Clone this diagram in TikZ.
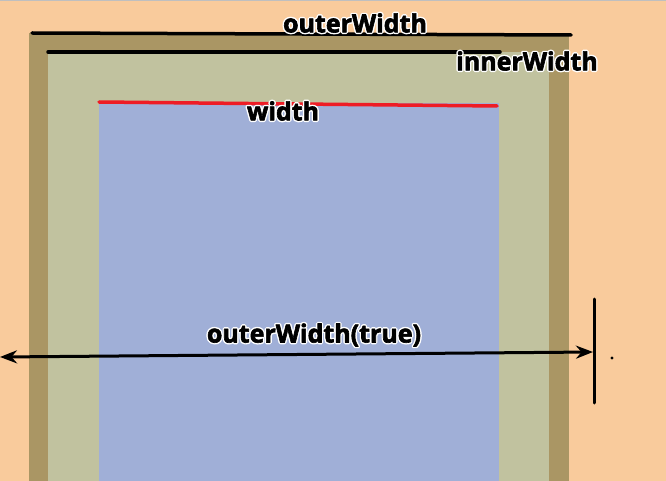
\documentclass[tikz,border=0pt]{standalone}
\usepackage{fontspec}
\usetikzlibrary{arrows.meta}

\newfontfamily\lblhalo{Open Sans}[BoldFeatures={FakeBold=14}]
\newfontfamily\lblfont{Open Sans}[BoldFeatures={FakeBold=2.5}]

\definecolor{peach}{HTML}{F9CB9C}
\definecolor{margin}{HTML}{AA9664}
\definecolor{pad}{HTML}{C1C29F}
\definecolor{content}{HTML}{A0AFD7}
\definecolor{redline}{HTML}{EE1C25}
\newcommand{\halo}[1]{\special{pdf:code 1 j 1 J}\makebox[0pt][l]{\color{white}\lblhalo\bfseries #1}{\lblfont\bfseries #1}}

\tikzset{
    dimlabel/.style={font=\fontsize{25}{25}\selectfont, inner sep=0pt, black},
    dimline/.style={line width=3.5pt, line cap=round},
}

\begin{document}
\begin{tikzpicture}[x=1pt, y=-1pt]
    \useasboundingbox (0, 0) rectangle (666, 481);
    \fill[peach] (0, 0) rectangle (666, 481);
    \draw[black!25, line width=1pt] (0, 0.5) -- (666, 0.5);

    % boxes
    \fill[margin] (29, 33) rectangle (569, 481);
    \fill[pad] (48, 52) rectangle (549, 481);
    \fill[content] (99, 103) rectangle (499, 481);

    % width lines
    \coordinate (ow-l) at (32, 33);
    \coordinate (ow-r) at (571, 35);
    \draw[dimline, black] (ow-l) -- (ow-r);

    \coordinate (iw-l) at (48, 52);
    \coordinate (iw-r) at (500, 52);
    \draw[dimline, black] (iw-l) -- (iw-r);

    \coordinate (w-l) at (99, 102);
    \coordinate (w-r) at (497, 106);
    \draw[dimline, redline] (w-l) -- (w-r);

    % true outer width
    \coordinate (tk-t) at (594, 299);
    \coordinate (tk-b) at (594, 403);
    \draw[line width=3pt, line cap=round] (tk-t) -- (tk-b);

    \coordinate (ar-l) at (0, 357);
    \coordinate (ar-r) at (593, 352);
    \draw[line width=3pt, {Stealth[length=17pt, width=13pt]}-{Stealth[length=17pt, width=13pt]}] (ar-l) -- (ar-r);

    \fill[black] (612, 358) circle (1.6pt);

    % labels
    \node[dimlabel] (outerlbl) at (355, 23) {\halo{outerWidth}};
    \node[dimlabel] (innerlbl) at (527, 61) {\halo{innerWidth}};
    \node[dimlabel] (widthlbl) at (283, 111) {\halo{width}};
    \node[dimlabel] (truelbl) at (314, 335) {\halo{outerWidth(true)}};
\end{tikzpicture}
\end{document}
